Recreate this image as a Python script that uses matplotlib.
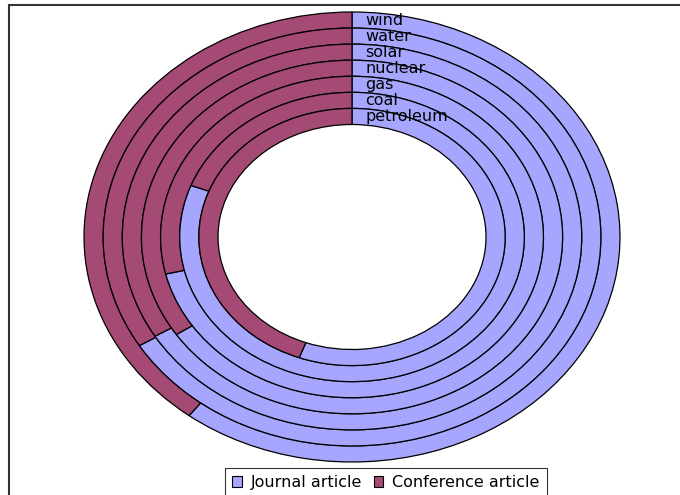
import matplotlib.pyplot as plt
from matplotlib.patches import Patch, Rectangle

# rings from outside to inside
sources = ['wind', 'water', 'solar', 'nuclear', 'gas', 'coal', 'petroleum']
journal = [60.4, 66.3, 66.4, 65.7, 71.3, 80.8, 55.6]
conference = [39.6, 33.7, 33.6, 34.3, 28.7, 19.2, 44.4]
series = ['Journal article', 'Conference article']
colors = ['#A6A6FF', '#A44A74']

fig = plt.figure(figsize=(6.8, 4.95), dpi=100)
ax = fig.add_axes([84 / 680, 33 / 495, 536 / 680, 450 / 495])

w = 0.5 / len(sources)
for i, name in enumerate(sources):
    r = 1.0 - i * w
    ax.pie([journal[i], conference[i]], radius=r, colors=colors,
           startangle=90, counterclock=False,
           wedgeprops=dict(width=w, edgecolor='black', linewidth=0.9))
    ax.text(0.05, r - w / 2, name, ha='left', va='center', fontsize=11.5)

ax.set_aspect('auto')
ax.set_xlim(-1, 1)
ax.set_ylim(-1, 1)
ax.axis('off')

handles = [Patch(facecolor=c, edgecolor='black', linewidth=0.8) for c in colors]
leg = fig.legend(handles, series, loc='upper left',
                 bbox_to_anchor=(225 / 680, 1 - 468 / 495), ncol=2,
                 fontsize=11.5, frameon=True, fancybox=False,
                 handlelength=0.6, handleheight=0.6, handletextpad=0.55,
                 columnspacing=0.75, borderpad=0.45, borderaxespad=0)
leg.get_frame().set_edgecolor('black')
leg.get_frame().set_linewidth(0.8)

# outer chart frame (cut off at right and bottom)
fig.patches.append(Rectangle((9 / 680, -0.5), 1.0, 1.5 - 5 / 495,
                             transform=fig.transFigure, fill=False,
                             edgecolor='#333333', linewidth=1.5))

fig.savefig('out.png', dpi=100)
